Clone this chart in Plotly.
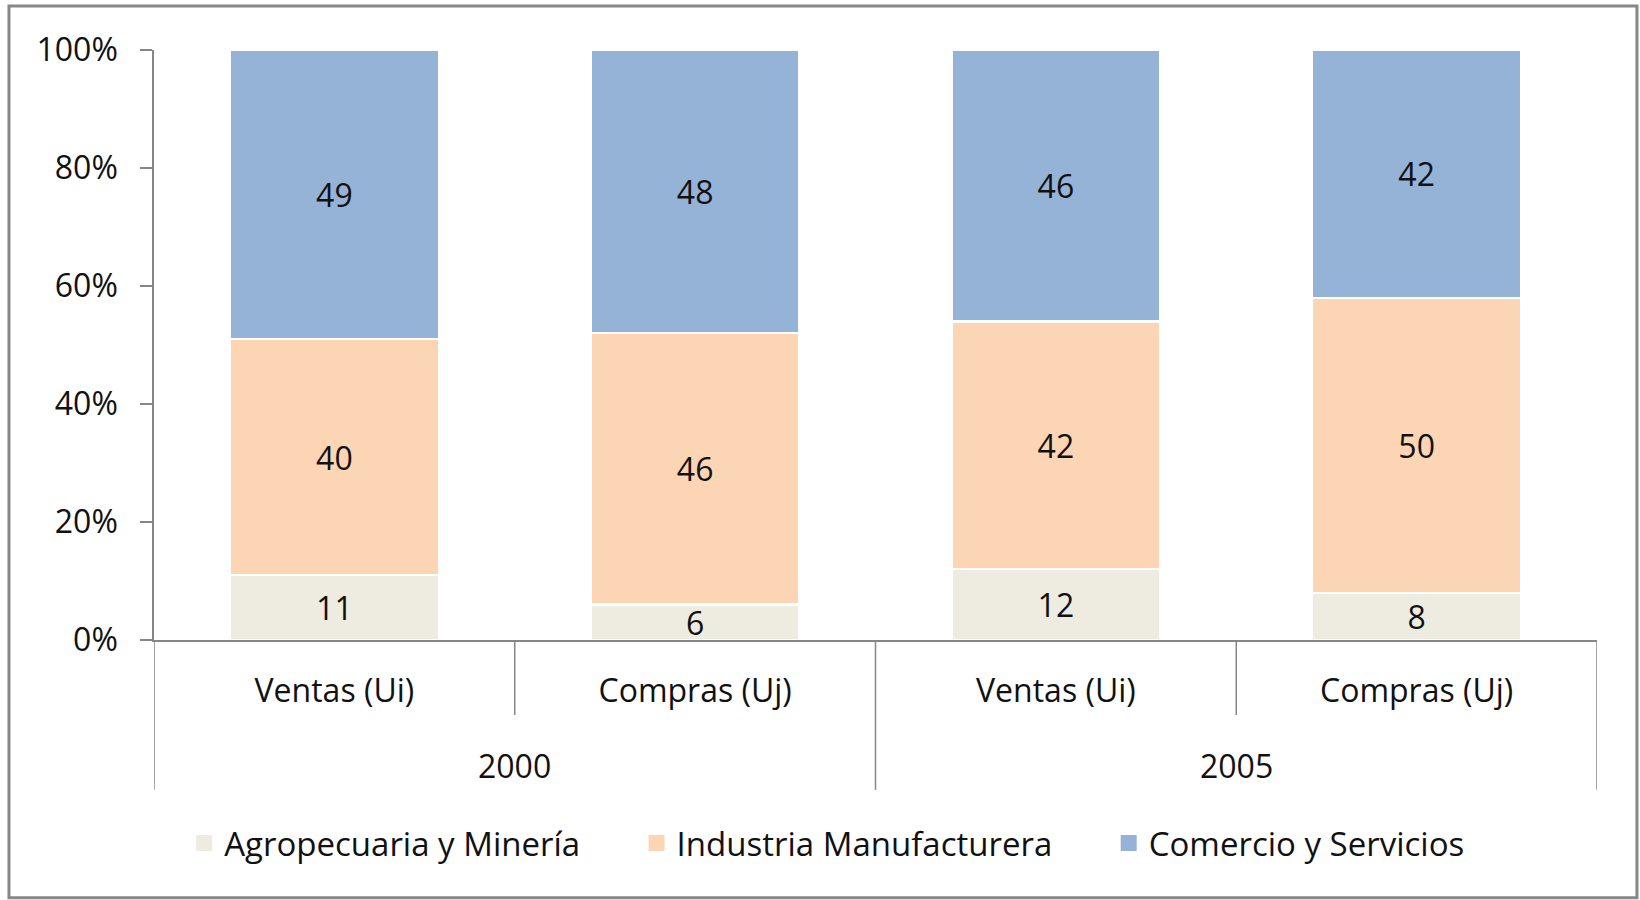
import plotly.graph_objects as go

# ---- data ----
years = ["2000", "2000", "2005", "2005"]
subcats = ["Ventas (Ui)", "Compras (Uj)", "Ventas (Ui)", "Compras (Uj)"]
agro = [11, 6, 12, 8]
industria = [40, 46, 42, 50]
comercio = [49, 48, 46, 42]
series_names = ["Agropecuaria y Minería", "Industria Manufacturera", "Comercio y Servicios"]
colors = ["#EEECE1", "#FCD5B5", "#95B3D7"]
y_ticks = [0, 20, 40, 60, 80, 100]
y_ticktext = [f"{v}%" for v in y_ticks]

FONT = "Open Sans"
FS = 32
GRID = "#868686"
TXT = "#111111"
PAD = "\u00a0" * 6  # extra spacing after legend entries

cat_keys = [f"{y}|{s}" for y, s in zip(years, subcats)]

fig = go.Figure()
for name, vals, col in zip(series_names, [agro, industria, comercio], colors):
    fig.add_trace(go.Bar(
        x=cat_keys, y=vals, name=name,
        marker=dict(color=col, line=dict(color="white", width=2.5)),
        text=[str(v) for v in vals], textposition="inside", textangle=0,
        insidetextanchor="middle", constraintext="none",
        textfont=dict(family=FONT, size=FS, color=TXT),
        showlegend=False, hoverinfo="skip",
    ))
# legend proxies
for k, (name, col) in enumerate(zip(series_names, colors)):
    fig.add_trace(go.Scatter(
        x=[None], y=[None], mode="markers",
        name=name + (PAD if k < len(series_names) - 1 else ""),
        marker=dict(symbol="square", size=18, color=col),
    ))

shapes = []
# inner separators (short)
for i in range(len(cat_keys) - 1):
    if years[i] == years[i + 1]:
        shapes.append(dict(type="line", xref="x", yref="paper",
                           x0=i + 0.5, x1=i + 0.5, y0=0, y1=-0.127,
                           line=dict(color=GRID, width=1.5)))
# outer separators (long)
bounds = [-0.5] + [i + 0.5 for i in range(len(cat_keys) - 1) if years[i] != years[i + 1]] + [len(cat_keys) - 0.5]
for b in bounds:
    shapes.append(dict(type="line", xref="x", yref="paper",
                       x0=b, x1=b, y0=0, y1=-0.254,
                       line=dict(color=GRID, width=1.5)))
# outer chart frame
shapes.append(dict(type="rect", xref="paper", yref="paper",
                   x0=-0.1005, x1=1.0277, y0=-0.437, y1=1.0746,
                   line=dict(color="#878787", width=3)))

annotations = []
uniq_years = []
for y in years:
    if y not in uniq_years:
        uniq_years.append(y)
for y in uniq_years:
    idx = [i for i, yy in enumerate(years) if yy == y]
    annotations.append(dict(x=sum(idx) / len(idx), y=-0.212, xref="x", yref="paper",
                            text=y, showarrow=False, yanchor="middle",
                            font=dict(family=FONT, size=FS, color=TXT)))

fig.update_layout(
    width=1640, height=900,
    barmode="stack", bargap=0.42,
    paper_bgcolor="white", plot_bgcolor="white",
    margin=dict(l=154, r=43, t=50, b=260),
    font=dict(family=FONT, size=FS, color=TXT),
    shapes=shapes, annotations=annotations,
    legend=dict(orientation="h", x=0.4665, xanchor="center", y=-0.344, yanchor="middle",
                traceorder="normal", font=dict(family=FONT, size=33, color=TXT),
                itemclick=False, itemdoubleclick=False),
    xaxis=dict(tickvals=cat_keys, ticktext=subcats, showline=True, linecolor=GRID, linewidth=1.5,
               ticks="", ticklabelstandoff=22, showgrid=False, zeroline=False,
               range=[-0.5, len(cat_keys) - 0.5], fixedrange=True),
    yaxis=dict(range=[0, 100], tickvals=y_ticks, ticktext=y_ticktext, showline=True,
               linecolor=GRID, linewidth=1.5, ticks="outside", ticklen=12, tickcolor=GRID,
               tickwidth=1.5, ticklabelstandoff=16, showgrid=False, zeroline=False, fixedrange=True),
)

fig.write_html("out.html", config={"displayModeBar": False},
               post_script="document.body.style.margin='0';document.body.style.overflow='hidden';")
